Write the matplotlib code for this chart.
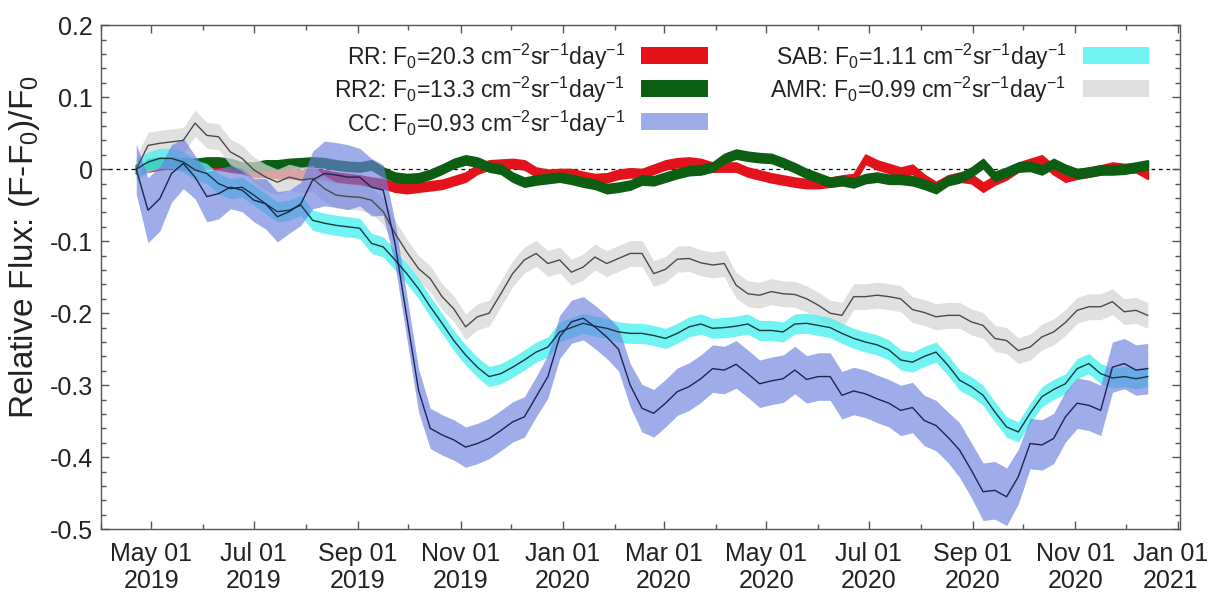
import numpy as np
import pandas as pd
import matplotlib
matplotlib.use("Agg")
import matplotlib.pyplot as plt
import matplotlib.dates as mdates
import matplotlib.transforms as mtransforms
from matplotlib.patches import Rectangle
from matplotlib.ticker import MultipleLocator

plt.rcParams['font.family'] = ['Liberation Sans', 'DejaVu Sans']
plt.rcParams['mathtext.fontset'] = 'custom'
plt.rcParams['mathtext.rm'] = 'Liberation Sans'
plt.rcParams['mathtext.it'] = 'Liberation Sans:italic'
plt.rcParams['mathtext.bf'] = 'Liberation Sans:bold'
plt.rcParams['axes.unicode_minus'] = False

# === weekly samples, first one on 2019-04-22 ===
start = "2019-04-22"

rr = [0.0, 0.003, 0.006, 0.008, 0.006, 0.006, 0.008, 0.006, 0.003, 0.001,
      -0.004, -0.004, -0.006, -0.006, -0.008, -0.006, -0.008, -0.011, -0.013, -0.015,
      -0.018, -0.020, -0.025, -0.027, -0.025, -0.023, -0.021, -0.016, -0.011, 0.000,
      0.006, 0.007, 0.008, 0.006, -0.004, -0.007, -0.006, -0.006, -0.010, -0.013,
      -0.012, -0.007, -0.005, -0.006, 0.000, 0.006, 0.009, 0.010, 0.008, 0.003,
      0.003, 0.003, -0.004, -0.008, -0.012, -0.015, -0.018, -0.020, -0.020, -0.018,
      -0.015, -0.013, 0.014, 0.006, 0.001, -0.004, 0.000, -0.014, -0.024, -0.015,
      -0.011, -0.013, -0.025, -0.015, -0.008, 0.003, 0.008, 0.013, -0.001, -0.011,
      -0.007, -0.004, -0.001, 0.003, 0.001, 0.002, -0.007]

rr2 = [0.0, 0.008, 0.010, 0.010, 0.009, 0.008, 0.010, 0.010, 0.008, 0.003,
       0.003, 0.006, 0.006, 0.008, 0.009, 0.010, 0.009, 0.006, 0.004, 0.003,
       0.006, -0.004, -0.011, -0.013, -0.012, -0.007, 0.000, 0.008, 0.013, 0.010,
       0.003, 0.000, -0.011, -0.018, -0.015, -0.013, -0.011, -0.014, -0.018, -0.021,
       -0.027, -0.025, -0.022, -0.015, -0.016, -0.011, -0.006, -0.002, -0.001, 0.003,
       0.015, 0.021, 0.018, 0.016, 0.015, 0.009, 0.002, -0.006, -0.012, -0.018,
       -0.016, -0.019, -0.013, -0.011, -0.014, -0.014, -0.016, -0.021, -0.027, -0.016,
       -0.012, -0.004, 0.008, -0.010, -0.004, 0.003, 0.004, -0.001, 0.008, 0.000,
       -0.006, -0.004, -0.001, -0.001, 0.000, 0.003, 0.006]

cc = [0.0, -0.057, -0.041, -0.006, 0.008, -0.011, -0.038, -0.034, -0.025, -0.029,
      -0.043, -0.048, -0.066, -0.059, -0.048, -0.015, -0.006, -0.008, -0.011, -0.011,
      -0.025, -0.029, -0.103, -0.205, -0.307, -0.360, -0.369, -0.376, -0.386, -0.381,
      -0.374, -0.363, -0.351, -0.344, -0.316, -0.288, -0.233, -0.212, -0.207, -0.219,
      -0.233, -0.250, -0.300, -0.332, -0.339, -0.325, -0.309, -0.302, -0.291, -0.277,
      -0.279, -0.271, -0.284, -0.298, -0.294, -0.291, -0.279, -0.292, -0.288, -0.288,
      -0.314, -0.308, -0.312, -0.319, -0.325, -0.335, -0.331, -0.349, -0.356, -0.372,
      -0.390, -0.418, -0.448, -0.446, -0.455, -0.427, -0.381, -0.383, -0.374, -0.344,
      -0.325, -0.328, -0.335, -0.275, -0.270, -0.279, -0.277]

cc_err = [0.035, 0.045, 0.045, 0.040, 0.035, 0.030, 0.035, 0.035, 0.030, 0.030,
          0.030, 0.035, 0.035, 0.030, 0.030, 0.040, 0.045, 0.045, 0.045, 0.040,
          0.040, 0.035, 0.030, 0.030, 0.030, 0.028, 0.028, 0.028, 0.028, 0.028,
          0.028, 0.028, 0.028, 0.028, 0.028, 0.030, 0.030, 0.030, 0.030, 0.030,
          0.030, 0.030, 0.030, 0.033, 0.033, 0.033, 0.033, 0.033, 0.033, 0.033,
          0.033, 0.033, 0.033, 0.033, 0.033, 0.033, 0.033, 0.033, 0.033, 0.033,
          0.033, 0.033, 0.033, 0.033, 0.033, 0.035, 0.035, 0.035, 0.035, 0.035,
          0.038, 0.038, 0.040, 0.040, 0.040, 0.038, 0.035, 0.035, 0.035, 0.035,
          0.035, 0.035, 0.035, 0.035, 0.035, 0.035, 0.035]

sab = [0.0, 0.010, 0.015, 0.015, 0.010, -0.001, -0.006, -0.020, -0.027, -0.025,
       -0.036, -0.048, -0.059, -0.057, -0.050, -0.071, -0.075, -0.078, -0.080, -0.082,
       -0.103, -0.108, -0.126, -0.145, -0.166, -0.191, -0.214, -0.238, -0.258, -0.275,
       -0.288, -0.284, -0.275, -0.265, -0.254, -0.247, -0.226, -0.220, -0.214, -0.218,
       -0.221, -0.226, -0.228, -0.228, -0.231, -0.235, -0.228, -0.219, -0.215, -0.221,
       -0.220, -0.218, -0.215, -0.224, -0.224, -0.226, -0.215, -0.214, -0.217, -0.220,
       -0.228, -0.235, -0.240, -0.244, -0.251, -0.265, -0.268, -0.260, -0.254, -0.272,
       -0.293, -0.302, -0.314, -0.337, -0.358, -0.365, -0.339, -0.316, -0.306, -0.298,
       -0.277, -0.270, -0.284, -0.290, -0.288, -0.291, -0.288]

amr = [0.0, 0.033, 0.036, 0.038, 0.040, 0.064, 0.047, 0.045, 0.024, 0.015,
       -0.001, -0.011, -0.018, -0.011, -0.015, -0.013, -0.027, -0.036, -0.038, -0.039,
       -0.043, -0.059, -0.089, -0.115, -0.138, -0.152, -0.177, -0.194, -0.219, -0.205,
       -0.200, -0.173, -0.145, -0.126, -0.117, -0.131, -0.126, -0.143, -0.136, -0.122,
       -0.131, -0.124, -0.117, -0.117, -0.145, -0.139, -0.125, -0.124, -0.130, -0.133,
       -0.131, -0.161, -0.173, -0.175, -0.170, -0.173, -0.174, -0.180, -0.189, -0.200,
       -0.203, -0.177, -0.177, -0.175, -0.177, -0.180, -0.195, -0.199, -0.205, -0.203,
       -0.203, -0.212, -0.217, -0.235, -0.238, -0.252, -0.247, -0.233, -0.226, -0.213,
       -0.196, -0.191, -0.191, -0.184, -0.198, -0.196, -0.203]

rr_err = 0.006
sab_err = 0.014
amr_err = 0.018

labels = [r"RR: F$_0$=20.3 cm$^{-2}$sr$^{-1}$day$^{-1}$",
          r"RR2: F$_0$=13.3 cm$^{-2}$sr$^{-1}$day$^{-1}$",
          r"CC: F$_0$=0.93 cm$^{-2}$sr$^{-1}$day$^{-1}$",
          r"SAB: F$_0$=1.11 cm$^{-2}$sr$^{-1}$day$^{-1}$",
          r"AMR: F$_0$=0.99 cm$^{-2}$sr$^{-1}$day$^{-1}$"]

dates = pd.date_range(start, periods=len(rr), freq="7D")
rr, rr2, cc, cc_err = np.array(rr), np.array(rr2), np.array(cc), np.array(cc_err)
sab, amr = np.array(sab), np.array(amr)

c_rr, c_rr2, c_cc, c_sab, c_amr = "#e3121b", "#0b5e12", "#6a80e0", "#4ff0f0", "#d6d6d6"

fig = plt.figure(figsize=(12.12, 6.0), dpi=100)
ax = fig.add_axes([0.0833, 0.118, 0.890, 0.84])

ax.axhline(0, color="black", lw=0.9, ls=(0, (3, 3)), zorder=1)

ax.fill_between(dates, rr - rr_err, rr + rr_err, color=c_rr, lw=1.5, ec=c_rr, zorder=2)
ax.fill_between(dates, rr2 - rr_err, rr2 + rr_err, color=c_rr2, lw=1.5, ec=c_rr2, zorder=3)
ax.fill_between(dates, amr - amr_err, amr + amr_err, color=c_amr, alpha=0.75, lw=0, zorder=4)
ax.fill_between(dates, sab - sab_err, sab + sab_err, color=c_sab, alpha=0.8, lw=0, zorder=5)
ax.fill_between(dates, cc - cc_err, cc + cc_err, color=c_cc, alpha=0.65, lw=0, zorder=6)

ax.plot(dates, amr, color="#4a4a4a", lw=1.0, zorder=7)
ax.plot(dates, sab, color="#0e3c40", lw=1.0, zorder=7)
ax.plot(dates, cc, color="#1c2450", lw=1.0, zorder=8)

ax.set_xlim(pd.Timestamp("2019-04-01"), pd.Timestamp("2021-01-02"))
ax.set_ylim(-0.5, 0.2)

ax.xaxis.set_major_locator(mdates.MonthLocator(bymonth=[1, 3, 5, 7, 9, 11]))
ax.xaxis.set_minor_locator(mdates.MonthLocator())
ax.xaxis.set_major_formatter(mdates.DateFormatter("%b %d\n%Y"))
ax.yaxis.set_major_locator(MultipleLocator(0.1))
ax.yaxis.set_minor_locator(MultipleLocator(0.02))
ax.yaxis.set_major_formatter(lambda v, p: "0" if abs(v) < 1e-9 else f"{v:.1f}")

ax.tick_params(which="both", direction="in", top=True, right=True, color="#555555",
               labelsize=18, labelcolor="#222222")
ax.tick_params(which="major", length=6, width=1)
ax.tick_params(which="minor", length=3.5, width=1)
ax.tick_params(axis="x", pad=9)
ax.tick_params(axis="y", pad=6)
for s in ax.spines.values():
    s.set_color("#555555")
    s.set_linewidth(1.0)

ax.set_ylabel(r"Relative Flux: (F-F$_0$)/F$_0$", fontsize=24, color="#222222")
ax.yaxis.set_label_coords(-0.055, 0.56)

# legend drawn gnuplot style: text then colour box
rows = [(0.486, 0.921, 0.501, labels[0], c_rr, 1.0),
        (0.486, 0.855, 0.501, labels[1], c_rr2, 1.0),
        (0.486, 0.789, 0.501, labels[2], c_cc, 0.65),
        (0.895, 0.921, 0.910, labels[3], c_sab, 0.8),
        (0.895, 0.855, 0.910, labels[4], c_amr, 0.75)]
for tx, ty, bx, txt, col, a in rows:
    ax.text(tx, ty, txt, transform=ax.transAxes, ha="right", va="baseline",
            fontsize=16.5, color="#222222", zorder=10)
    ax.add_patch(Rectangle((bx, ty + 0.003), 0.062, 0.033, transform=ax.transAxes,
                           facecolor=col, alpha=a, lw=0, zorder=10))

# nudge the last date label (Jan 01 2021) so it stays inside the picture
fig.canvas.draw()
last_loc = mdates.date2num(pd.Timestamp("2021-01-01"))
shift = mtransforms.ScaledTranslation(-0.07, 0, fig.dpi_scale_trans)
for tick in ax.xaxis.get_major_ticks():
    tick.label1.set_linespacing(1.15)
    if abs(tick.get_loc() - last_loc) < 0.5:
        tick.label1.set_transform(tick.label1.get_transform() + shift)

fig.savefig("out.png", dpi=100)
